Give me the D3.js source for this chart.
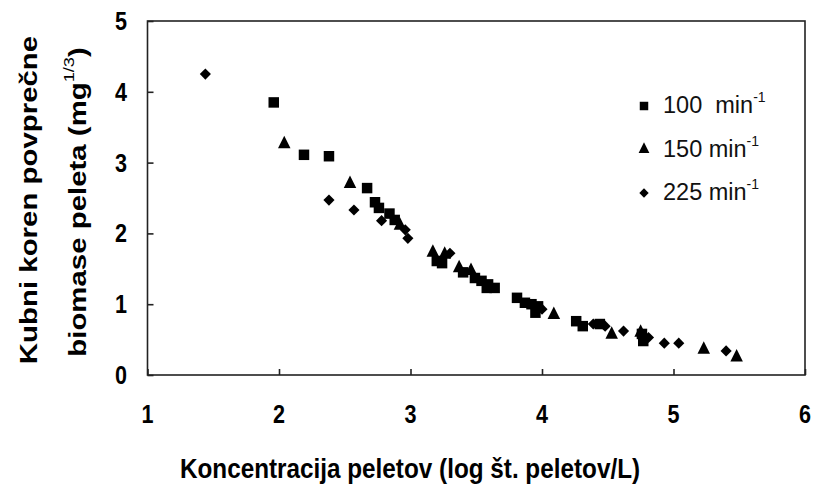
<!DOCTYPE html>
<html>
<head>
<meta charset="utf-8">
<script src="https://cdn.jsdelivr.net/npm/d3@7"></script>
<style>
  body { margin: 0; background: #fff; }
  svg { display: block; font-family: "Liberation Sans", Arial, sans-serif; }
</style>
</head>
<body>
<div class="chart"></div>
<script>
const width = 821;
const height = 484;
const plot = { left: 147.5, right: 805, top: 21, bottom: 375 };

// data: [log conc, cube root biomass]
const rpm100 = [
  [1.96, 3.85], [2.19, 3.11], [2.38, 3.09], [2.67, 2.64], [2.73, 2.44],
  [2.76, 2.36], [2.84, 2.28], [2.88, 2.19], [3.20, 1.61], [3.24, 1.58],
  [3.40, 1.45], [3.49, 1.37], [3.54, 1.33], [3.58, 1.23], [3.59, 1.28],
  [3.64, 1.23], [3.81, 1.09], [3.87, 1.02], [3.92, 1.00], [3.95, 0.88],
  [3.97, 0.97], [4.26, 0.76], [4.31, 0.69], [4.44, 0.72], [4.76, 0.58],
  [4.77, 0.48]
];
const rpm150 = [
  [2.04, 3.26], [2.54, 2.70], [2.92, 2.11], [3.17, 1.73], [3.26, 1.70],
  [3.37, 1.51], [3.46, 1.47], [4.09, 0.85], [4.53, 0.57], [4.75, 0.60],
  [5.23, 0.36], [5.48, 0.25]
];
const rpm225 = [
  [1.44, 4.25], [2.38, 2.47], [2.57, 2.33], [2.78, 2.18], [2.96, 2.05],
  [2.98, 1.93], [3.30, 1.72], [4.00, 0.93], [4.39, 0.72], [4.48, 0.69],
  [4.62, 0.62], [4.81, 0.53], [4.93, 0.45], [5.04, 0.45], [5.40, 0.34]
];
const seriesNames = ["100", "150", "225"];
const xTicks = [1, 2, 3, 4, 5, 6];
const yTicks = [0, 1, 2, 3, 4, 5];

const svg = d3.select(".chart")
  .append("svg")
  .attr("width", width)
  .attr("height", height);

const x = d3.scaleLinear().domain([1, 6]).range([plot.left, plot.right]);
const y = d3.scaleLinear().domain([0, 5]).range([plot.bottom, plot.top]);

// marker shapes; the picture is a bit taller than wide, so triangles get a stretch
const symbols = {
  "100": d3.symbol().type(d3.symbolSquare).size(110),
  "150": d3.symbol().type(d3.symbolTriangle).size(68),
  "225": d3.symbol().type(d3.symbolSquare).size(62)
};
const shapeTf = { "100": "", "150": "scale(1,1.15)", "225": "rotate(45)" };

// frame
svg.append("rect")
  .attr("x", x(1))
  .attr("y", y(5))
  .attr("width", x(6) - x(1))
  .attr("height", y(0) - y(5))
  .attr("fill", "none")
  .attr("stroke", "#222")
  .attr("stroke-width", 1.6);

// inward ticks
const xAxis = d3.axisTop(x).tickValues(xTicks).tickSize(6).tickFormat("");
svg.append("g")
  .attr("transform", `translate(0,${y(0)})`)
  .call(xAxis)
  .call(g => g.select(".domain").remove())
  .call(g => g.selectAll("line").attr("stroke", "#222").attr("stroke-width", 1.6));

const yAxis = d3.axisRight(y).tickValues(yTicks).tickSize(6).tickFormat("");
svg.append("g")
  .attr("transform", `translate(${x(1)},0)`)
  .call(yAxis)
  .call(g => g.select(".domain").remove())
  .call(g => g.selectAll("line").attr("stroke", "#222").attr("stroke-width", 1.6));

// tick labels
svg.append("g")
  .selectAll("text")
  .data(xTicks)
  .enter()
  .append("text")
  .attr("transform", d => `translate(${x(d)},423) scale(0.9,1.05)`)
  .attr("text-anchor", "middle")
  .attr("font-size", 24)
  .attr("font-weight", "bold")
  .text(d => d);

svg.append("g")
  .selectAll("text")
  .data(yTicks)
  .enter()
  .append("text")
  .attr("transform", d => `translate(127,${y(d) + 9}) scale(0.9,1.05)`)
  .attr("text-anchor", "end")
  .attr("font-size", 24)
  .attr("font-weight", "bold")
  .text(d => d);

// axis titles
svg.append("text")
  .attr("transform", "translate(410,478) scale(1,1.12)")
  .attr("text-anchor", "middle")
  .attr("font-size", 24.3)
  .attr("font-weight", "bold")
  .text("Koncentracija peletov (log št. peletov/L)");

svg.append("text")
  .attr("transform", "translate(37,200) rotate(-90) scale(1.21,1)")
  .attr("text-anchor", "middle")
  .attr("font-size", 24.3)
  .attr("font-weight", "bold")
  .text("Kubni koren povprečne");

const yt2 = svg.append("text")
  .attr("transform", "translate(86,202) rotate(-90) scale(1.21,1)")
  .attr("text-anchor", "middle")
  .attr("font-size", 24.3)
  .attr("font-weight", "bold");
yt2.append("tspan").text("biomase peleta (mg");
yt2.append("tspan").attr("font-size", 15).attr("font-weight", "normal").attr("dy", -12).text("1/3");
yt2.append("tspan").attr("dy", 12).text(")");

// points
const allSeries = [rpm100, rpm150, rpm225];
allSeries.forEach((data, i) => {
  const name = seriesNames[i];
  svg.append("g")
    .selectAll("path")
    .data(data)
    .enter()
    .append("path")
    .attr("d", symbols[name])
    .attr("transform", d => `translate(${x(d[0])},${y(d[1])}) ${shapeTf[name]}`)
    .attr("fill", "#000");
});

// legend
const legend = svg.append("g").attr("transform", "translate(644,106)");
const legendSymbols = {
  "100": d3.symbol().type(d3.symbolSquare).size(72),
  "150": d3.symbol().type(d3.symbolTriangle).size(50),
  "225": d3.symbol().type(d3.symbolSquare).size(44)
};
seriesNames.forEach((name, i) => {
  const row = legend.append("g").attr("transform", `translate(0,${i * 43.5})`);
  row.append("path")
    .attr("d", legendSymbols[name])
    .attr("transform", shapeTf[name])
    .attr("fill", "#000");
  const t = row.append("text")
    .attr("x", 19)
    .attr("y", 7)
    .attr("font-size", 23.5)
    .attr("fill", "#111");
  t.append("tspan").attr("xml:space", "preserve").text(i === 0 ? name + "  min" : name + " min");
  t.append("tspan").attr("font-size", 14).attr("dy", -11).text("-1");
});
</script>
</body>
</html>
